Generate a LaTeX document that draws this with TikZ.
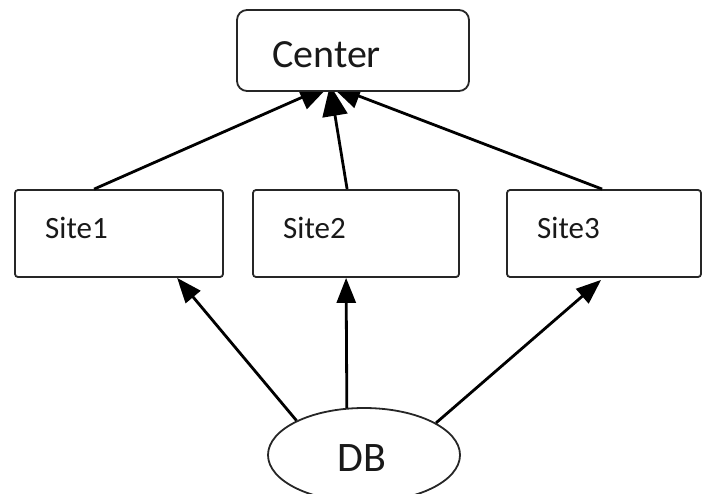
\documentclass[tikz,border=0pt]{standalone}
\usepackage{fontspec}
\setmainfont{Carlito}
\usetikzlibrary{arrows.meta,shapes.geometric}
\begin{document}
\begin{tikzpicture}[x=1pt,y=-1pt,
  box/.style={draw=black!85,line width=1.8pt,rounded corners=3pt},
  label/.style={anchor=base west,inner sep=0pt,text=black!90},
  link/.style={line width=2.8pt,-{Triangle[length=25pt,width=19pt]}},
  uplink/.style={line width=2.8pt,-{Triangle[length=31pt,width=25pt]}}]
\useasboundingbox (0,0) rectangle (703,494);
% site boxes
\node (s1) [box,minimum width=208pt,minimum height=87pt,inner sep=0pt] at (119,233.5) {};
\node[label,font=\fontsize{31}{31}\selectfont] at (45,238) {Site1};
\node (s2) [box,minimum width=206pt,minimum height=87pt,inner sep=0pt] at (356,233.5) {};
\node[label,font=\fontsize{31}{31}\selectfont] at (283,238) {Site2};
\node (s3) [box,minimum width=194pt,minimum height=87pt,inner sep=0pt] at (604,233.5) {};
\node[label,font=\fontsize{31}{31}\selectfont] at (537,238) {Site3};
\node (db) [draw=black!85,line width=1.8pt,ellipse,minimum width=192pt,minimum height=94pt,inner sep=0pt] at (364,455) {};
\node[font=\fontsize{42}{42}\selectfont,text=black!90] at (362,458) {DB};
% connection points
\coordinate (ctip) at (330,85);
\coordinate (s1t) at ([xshift=80pt]s1.north west);
\coordinate (s2t) at ([xshift=95pt]s2.north west);
\coordinate (s3t) at ([xshift=96pt]s3.north west);
\coordinate (s1b) at ([xshift=163pt]s1.south west);
\coordinate (s2b) at ([xshift=94pt]s2.south west);
\coordinate (s3b) at ([xshift=95pt,yshift=-2pt]s3.south west);
% arrows up to the center (tips run under its box)
\draw[uplink] (s1t) -- (ctip);
\draw[uplink] (s2t) -- (ctip);
\draw[uplink] (s3t) -- (ctip);
% arrows from the database
\draw[link] (db.153) -- (s1b);
\draw[link] (db.110) -- (s2b);
\draw[link] (db.24) -- (s3b);
% center box drawn last, over the arrow tips
\node (center) [box,rounded corners=10pt,fill=white,minimum width=232pt,minimum height=81pt,inner sep=0pt] at (353,50.5) {};
\node[label,font=\fontsize{40}{40}\selectfont] at (272,68) {Center};
\end{tikzpicture}
\end{document}
